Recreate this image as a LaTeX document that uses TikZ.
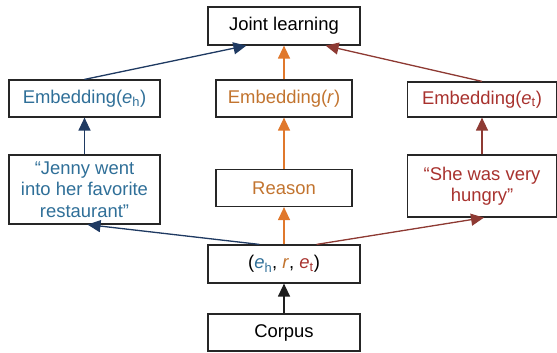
\documentclass[tikz,border=0pt]{standalone}
\usepackage{fontspec}
\setmainfont{Liberation Sans}
\usetikzlibrary{arrows.meta}

\definecolor{headtxt}{HTML}{2F6F98}
\definecolor{headarr}{HTML}{1F3A62}
\definecolor{reltxt}{HTML}{C2742F}
\definecolor{relarr}{HTML}{E0782C}
\definecolor{tailtxt}{HTML}{A8322E}
\definecolor{tailarr}{HTML}{8E3A33}
\definecolor{boxline}{HTML}{262626}
\definecolor{basearr}{HTML}{1E1E1E}

\newcommand{\eh}{\textit{e}\textsubscript{h}}
\newcommand{\et}{\textit{e}\textsubscript{t}}

\tikzset{
  box/.style={draw=boxline, line width=1.2bp, inner sep=0pt, align=center,
    font=\fontsize{18.5}{21.5}\selectfont},
  link/.style={line width=1.3bp, -{Triangle[length=13bp,width=12bp]}},
}

\begin{document}
\begin{tikzpicture}[x=1bp,y=-1bp]
  \useasboundingbox (0,0) rectangle (557,352);

  % top row
  \node[box, minimum width=152bp, minimum height=38bp] (joint) at (284,26) {Joint learning};

  % embeddings
  \node[box, minimum width=151bp, minimum height=37bp, text=headtxt] (embh) at (84.5,98.5) {Embedding(\eh)};
  \node[box, minimum width=136bp, minimum height=37bp, text=reltxt] (embr) at (284,98.5) {Embedding(\textit{r})};
  \node[box, minimum width=149bp, minimum height=35bp, text=tailtxt] (embt) at (482,99.5) {Embedding(\et)};

  % sentences and reason
  \node[box, minimum width=151bp, minimum height=69bp, text=headtxt] (jenny) at (84.5,189.5)
    {“Jenny went\\into her favorite\\restaurant”};
  \node[box, minimum width=136bp, minimum height=37bp, text=reltxt] (reason) at (284,188) {Reason};
  \node[box, minimum width=149bp, minimum height=62bp, text=tailtxt] (she) at (482,186)
    {“She was very\\hungry”};

  % triple and corpus
  \node[box, minimum width=152bp, minimum height=38bp] (tuple) at (284,264)
    {(\textcolor{headtxt}{\eh}, \textcolor{reltxt}{\textit{r}}, \textcolor{tailtxt}{\et})};
  \node[box, minimum width=152bp, minimum height=37bp] (corpus) at (284,332.5) {Corpus};

  % connectors
  \draw[link, draw=basearr, fill=basearr] (corpus.north) -- (tuple.south);
  \draw[link, draw=relarr, fill=relarr] (tuple.north) -- (reason.south);
  \draw[link, draw=relarr, fill=relarr] (reason.north) -- (embr.south);
  \draw[link, draw=relarr, fill=relarr] (embr.north) -- (joint.south);

  \draw[link, draw=headarr, fill=headarr] ([xshift=52bp]tuple.north west) -- ([xshift=3bp]jenny.south);
  \draw[link, draw=headarr, fill=headarr] (jenny.north) -- (embh.south);
  \draw[link, draw=headarr, fill=headarr] (embh.north) -- ([xshift=39bp]joint.south west);

  \draw[link, draw=tailarr, fill=tailarr] ([xshift=-44bp]tuple.north east) -- ([xshift=2bp]she.south);
  \draw[link, draw=tailarr, fill=tailarr] (she.north) -- (embt.south);
  \draw[link, draw=tailarr, fill=tailarr] (embt.north) -- ([xshift=-35bp]joint.south east);
\end{tikzpicture}
\end{document}
